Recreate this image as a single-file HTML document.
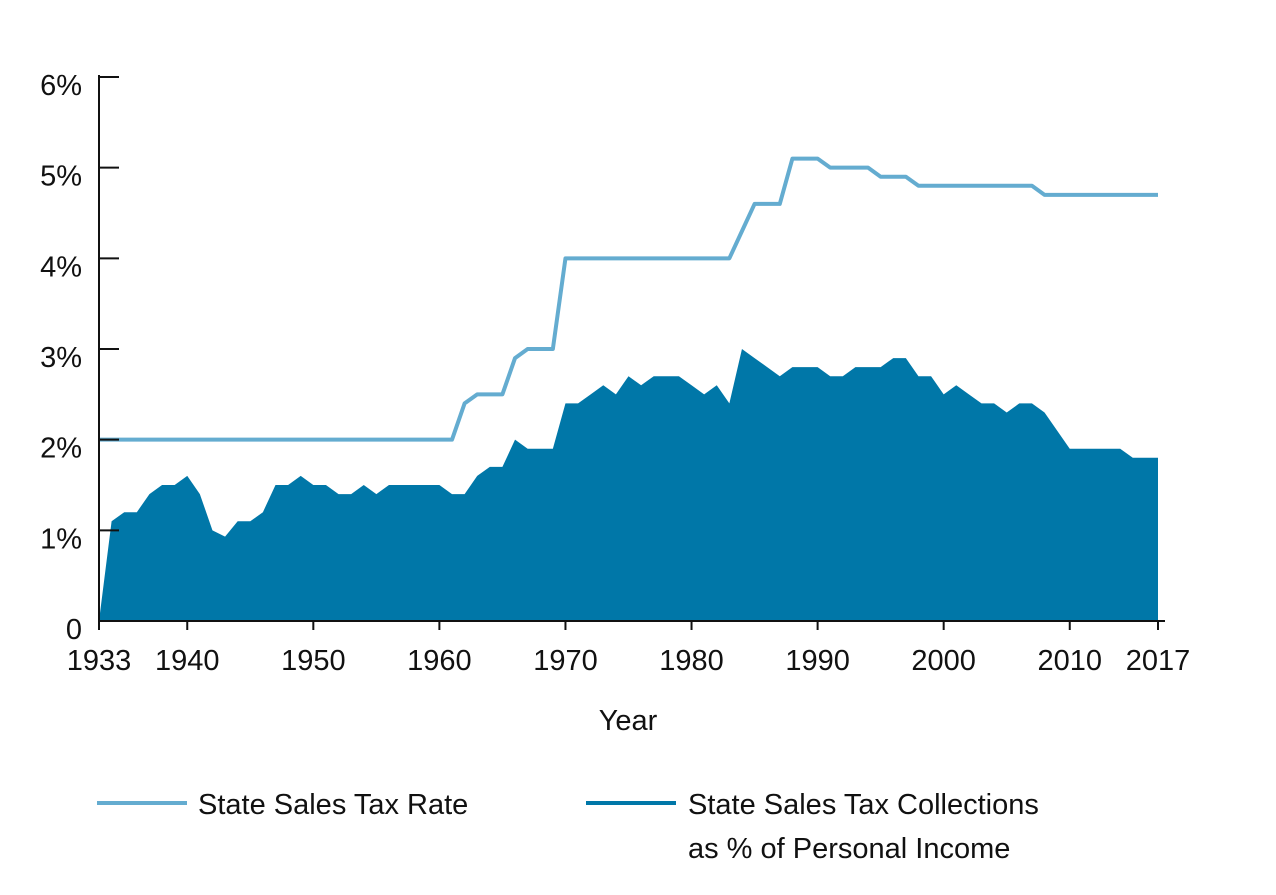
<!DOCTYPE html>
<html><head><meta charset="utf-8"><style>
body{margin:0;background:#fff;}
svg{display:block;font-family:"Liberation Sans",sans-serif;}
</style></head><body>
<svg id="chart" width="1276" height="895">
<g id="area"></g>
<g id="line"></g>
<g id="axes"></g>
<text x="628" y="730" text-anchor="middle" font-size="29" fill="#111">Year</text>
<g>
<line x1="97" y1="803" x2="187" y2="803" stroke="#64acd0" stroke-width="4"/>
<text x="198" y="814" font-size="29" fill="#111">State Sales Tax Rate</text>
<line x1="586" y1="803" x2="676" y2="803" stroke="#0077a8" stroke-width="4"/>
<text x="688" y="814" font-size="29" fill="#111">State Sales Tax Collections</text>
<text x="688" y="858" font-size="29" fill="#111">as % of Personal Income</text>
</g>
</svg>
<script>
const startYear = 1933;
const collections = [0,1.1,1.2,1.2,1.4,1.5,1.5,1.6,1.4,1.0,0.93,1.1,1.1,1.2,1.5,1.5,1.6,1.5,1.5,1.4,1.4,1.5,1.4,1.5,1.5,1.5,1.5,1.5,1.4,1.4,1.6,1.7,1.7,2.0,1.9,1.9,1.9,2.4,2.4,2.5,2.6,2.5,2.7,2.6,2.7,2.7,2.7,2.6,2.5,2.6,2.4,3.0,2.9,2.8,2.7,2.8,2.8,2.8,2.7,2.7,2.8,2.8,2.8,2.9,2.9,2.7,2.7,2.5,2.6,2.5,2.4,2.4,2.3,2.4,2.4,2.3,2.1,1.9,1.9,1.9,1.9,1.9,1.8,1.8,1.8];
const rate = [2,2,2,2,2,2,2,2,2,2,2,2,2,2,2,2,2,2,2,2,2,2,2,2,2,2,2,2,2,2.4,2.5,2.5,2.5,2.9,3.0,3.0,3.0,4,4,4,4,4,4,4,4,4,4,4,4,4,4,4.3,4.6,4.6,4.6,5.1,5.1,5.1,5.0,5.0,5.0,5.0,4.9,4.9,4.9,4.8,4.8,4.8,4.8,4.8,4.8,4.8,4.8,4.8,4.8,4.7,4.7,4.7,4.7,4.7,4.7,4.7,4.7,4.7,4.7];
const xTicks = [1933,1940,1950,1960,1970,1980,1990,2000,2010,2017];
const yTicks = [0,1,2,3,4,5,6];
const yTickLabels = ["0","1%","2%","3%","4%","5%","6%"];
const X0=99,X1=1158,Y0=621,Y1=77;
function x(yr){return X0+(yr-1933)*(X1-X0)/84;}
function y(v){return Y0-v*(Y0-Y1)/6;}
const NS="http://www.w3.org/2000/svg";
function mk(t,a,p){const e=document.createElementNS(NS,t);for(const k in a)e.setAttribute(k,a[k]);p.appendChild(e);return e;}
let d=`M${x(startYear)},${y(0)}`;
collections.forEach((v,i)=>{d+=` L${x(startYear+i)},${y(v)}`;});
d+=` L${x(startYear+collections.length-1)},${y(0)} Z`;
const ap=mk('path',{d:d,fill:'#0077a8'},document.getElementById('area'));


const pts=rate.map((v,i)=>x(startYear+i)+','+y(v)).join(' ');
const lp=mk('polyline',{points:pts,fill:'none',stroke:'#64acd0','stroke-width':4,'stroke-linejoin':'round'},document.getElementById('line'));


const ax=document.getElementById('axes');
mk('line',{x1:X0,y1:Y1-2,x2:X0,y2:Y0+2,stroke:'#111','stroke-width':2},ax);
mk('line',{x1:X0-1,y1:Y0,x2:1165,y2:Y0,stroke:'#111','stroke-width':2},ax);
yTicks.forEach((v,i)=>{
 const tk=mk('line',{x1:X0,y1:y(v),x2:X0+20,y2:y(v),stroke:'#111','stroke-width':2},ax);
 
 
 const t=mk('text',{x:82,y:y(v)+18,'text-anchor':'end','font-size':29,fill:'#111'},ax);
 t.textContent=yTickLabels[i];
 
 
});
xTicks.forEach(yr=>{
 const tk=mk('line',{x1:x(yr),y1:Y0,x2:x(yr),y2:Y0+9,stroke:'#111','stroke-width':2},ax);
 
 
 const t=mk('text',{x:x(yr),y:670,'text-anchor':'middle','font-size':29,fill:'#111'},ax);
 t.textContent=String(yr);
 
 
});
</script>
</body></html>
